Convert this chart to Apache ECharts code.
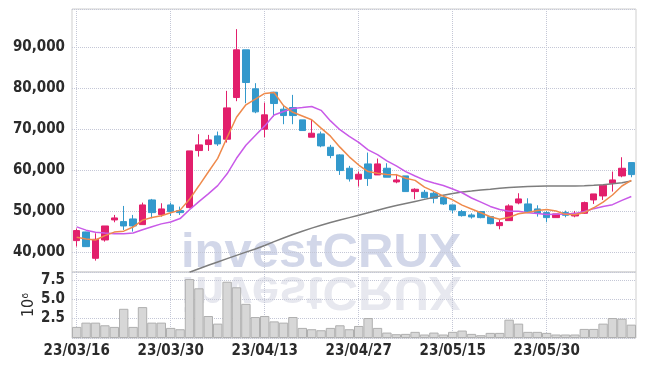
<!DOCTYPE html>
<html>
<head>
<meta charset="utf-8">
<script src="https://cdn.jsdelivr.net/npm/echarts@6/dist/echarts.min.js"></script>
<style>
  html, body { margin: 0; padding: 0; background: #fff; }
  #chart { width: 645px; height: 366px; }
</style>
</head>
<body>
<div id="chart"></div>
<script>
const dates = [
  '23/03/16', '23/03/17', '23/03/20', '23/03/21', '23/03/22', '23/03/23', '23/03/24', '23/03/27', '23/03/28', '23/03/29',
  '23/03/30', '23/03/31', '23/04/03', '23/04/04', '23/04/05', '23/04/06', '23/04/07', '23/04/10', '23/04/11', '23/04/12',
  '23/04/13', '23/04/14', '23/04/17', '23/04/18', '23/04/19', '23/04/20', '23/04/21', '23/04/24', '23/04/25', '23/04/26',
  '23/04/27', '23/04/28', '23/05/02', '23/05/03', '23/05/04', '23/05/08', '23/05/09', '23/05/10', '23/05/11', '23/05/12',
  '23/05/15', '23/05/16', '23/05/17', '23/05/18', '23/05/19', '23/05/22', '23/05/23', '23/05/24', '23/05/25', '23/05/26',
  '23/05/30', '23/05/31', '23/06/01', '23/06/02', '23/06/05', '23/06/07', '23/06/08', '23/06/09', '23/06/12', '23/06/13'
];

const opens = [
  42850, 44960, 38540, 43010, 47890, 47480, 48130, 46750, 52765, 49190,
  51545, 50160, 50895, 64797, 66260, 68374, 67560, 77720, 89350, 79840,
  70000, 79020, 74880, 75285, 72280, 68050, 68860, 65610, 63740, 60490,
  57810, 61545, 58860, 60490, 57155, 58620, 54800, 54630, 54390, 53330,
  51545, 49920, 49100, 49920, 48700, 46500, 47720, 52030, 51790, 50570,
  49675, 48455, 49675, 48860, 49510, 52760, 53740, 56830, 58620, 61870
];
const closes = [
  45300, 41380, 43170, 46420, 48380, 46420, 46420, 51545, 49675, 50570,
  49920, 49675, 64716, 66180, 67400, 66420, 75200, 89350, 81380, 74230,
  73500, 76260, 73330, 73330, 69675, 69025, 65935, 63580, 59920, 57890,
  59025, 57970, 61545, 58300, 57640, 54800, 55370, 53330, 53170, 51790,
  50325, 48940, 48620, 48455, 46990, 47235, 51300, 53010, 49920, 49510,
  48455, 49350, 49025, 49510, 52110, 54230, 56340, 57640, 60490, 58940
];
const lows = [
  41400, 41300, 37970, 42600, 47320, 45450, 45040, 46700, 48290, 48700,
  48860, 49110, 50700, 63330, 64716, 65935, 66750, 76830, 76340, 73900,
  68050, 73090, 71220, 71220, 69675, 68050, 65610, 62930, 58860, 57240,
  56020, 56180, 58860, 58300, 56830, 54800, 52930, 53170, 51950, 51540,
  49510, 48700, 48210, 48290, 46830, 45610, 47720, 51700, 49920, 48700,
  47320, 48455, 48540, 48540, 49350, 51790, 52760, 54800, 58290, 58290
];
const highs = [
  45800, 45000, 44630, 46420, 49110, 51300, 49110, 52110, 53010, 51950,
  52110, 51140, 64716, 68780, 68620, 69430, 79350, 94390, 89350, 81220,
  76500, 79100, 75935, 78370, 72280, 72280, 69430, 66180, 63900, 61060,
  59675, 64310, 62850, 61710, 59100, 58620, 55610, 55200, 54960, 54000,
  51600, 50325, 49510, 50080, 48700, 47890, 51700, 54390, 53170, 51460,
  50080, 49350, 50160, 50080, 52360, 54230, 56340, 59675, 63170, 61900
];

// moving averages
const ma5 = [
  43650, 43250, 43010, 44070, 44930, 45150, 46160, 47840, 48490, 48930,
  49630, 50280, 52910, 56210, 59580, 62880, 67980, 72910, 75950, 77320,
  78730, 78940, 75740, 74130, 73220, 72320, 70260, 68310, 65630, 63270,
  61270, 59680, 59270, 58950, 58900, 58050, 57530, 55890, 54860, 53690,
  52800, 51510, 50570, 49630, 48670, 48050, 48520, 49400, 49690, 50200,
  50440, 50050, 49250, 49170, 49690, 50850, 52240, 53970, 56160, 57530
];
const ma10 = [
  46200, 45400, 44900, 44700, 44550, 44500, 44700, 45500, 46250, 46930,
  47390, 48220, 50370, 52350, 54250, 56250, 59130, 62910, 66080, 68450,
  70810, 73460, 74330, 75040, 75270, 75530, 74600, 72030, 69880, 68250,
  66800, 64970, 63790, 62290, 61080, 59660, 58600, 57580, 56900, 56290,
  55420, 54520, 53230, 52240, 51180, 50420, 50020, 49980, 49660, 49430,
  49240, 49290, 49330, 49430, 49940, 50640, 51150, 51610, 52670, 53610
];
const maLong = [
  null, null, null, null, null, null, null, null, null, null,
  null, null, 35150, 36000, 36850, 37650, 38450, 39250, 40050, 40800,
  41660, 42600, 43500, 44350, 45150, 45900, 46600, 47250, 47850, 48450,
  49050, 49650, 50250, 50850, 51400, 51900, 52400, 52900, 53400, 53900,
  54340, 54710, 54950, 55200, 55390, 55610, 55780, 55930, 56050, 56120,
  56170, 56170, 56170, 56170, 56240, 56340, 56490, 56710, 56950, 57390
];

// volume in millions
const volumes = [
  1.43, 1.98, 1.98, 1.64, 1.43, 3.76, 1.43, 3.98, 1.98, 1.98,
  1.30, 1.13, 7.59, 6.40, 2.83, 1.85, 7.25, 6.53, 4.40, 2.70,
  2.83, 2.14, 1.98, 2.70, 1.30, 1.13, 1.00, 1.30, 1.64, 1.13,
  1.55, 2.57, 1.30, 0.70, 0.49, 0.53, 0.79, 0.45, 0.70, 0.45,
  0.79, 0.96, 0.53, 0.36, 0.66, 0.66, 2.36, 1.85, 0.79, 0.79,
  0.66, 0.45, 0.45, 0.45, 1.17, 1.17, 1.85, 2.57, 2.49, 1.72
];

const candles = dates.map((d, i) => [opens[i], closes[i], lows[i], highs[i]]);

const labelFont = "'Liberation Sans Narrow', 'DejaVu Sans Condensed', sans-serif";
const gridLine = { show: true, lineStyle: { type: 'dotted', color: '#c4c7d6', width: 1 } };
const wmFont = "bold 49px 'Liberation Sans', Arial, sans-serif";

const chart = echarts.init(document.getElementById('chart'));
chart.setOption({
  animation: false,
  backgroundColor: '#fff',
  grid: [
    { left: 72, right: 9, top: 9, height: 263, show: true, borderColor: '#cfcfcf', borderWidth: 1 },
    { left: 72, right: 9, top: 272, height: 66, show: true, borderColor: '#cfcfcf', borderWidth: 1 }
  ],
  graphic: [
    {
      type: 'group', x: 181, y: 272, z: -10, silent: true,
      children: [{
        type: 'text', z: -10,
        style: { text: 'investCRUX', x: 0, y: -43, verticalAlign: 'top', font: wmFont, fill: '#d2d7e9' }
      }]
    },
    {
      type: 'group', x: 181, y: 272, scaleY: -1, z: -10, silent: true,
      children: [{
        type: 'text', z: -10,
        style: { text: 'investCRUX', x: 0, y: -43, verticalAlign: 'top', font: wmFont, fill: '#e7e8ef' }
      }]
    }
  ],
  xAxis: [
    {
      type: 'category', gridIndex: 0, data: dates, boundaryGap: true,
      axisLine: { show: false }, axisTick: { show: false }, axisLabel: { show: false },
      splitLine: Object.assign({ interval: 9, alignWithLabel: true }, gridLine)
    },
    {
      type: 'category', gridIndex: 1, data: dates, boundaryGap: true,
      axisLine: { show: false }, axisTick: { show: false },
      axisLabel: { interval: 9, fontSize: 15, fontWeight: 'bold', color: '#2b2b2b', fontFamily: labelFont, margin: 6 },
      splitLine: Object.assign({ interval: 9, alignWithLabel: true }, gridLine)
    }
  ],
  yAxis: [
    {
      type: 'value', gridIndex: 0, min: 35200, max: 99300, splitNumber: 6,
      axisLine: { show: false }, axisTick: { show: false },
      axisLabel: { fontSize: 15, fontWeight: 'bold', color: '#2b2b2b', fontFamily: labelFont, margin: 7,
                   showMinLabel: false, showMaxLabel: false },
      splitLine: gridLine
    },
    {
      type: 'value', gridIndex: 1, min: 0, max: 8.5, interval: 2.5,
      name: '10⁶', nameLocation: 'middle', nameGap: 35, nameRotate: 90, nameMoveOverlap: false,
      nameTextStyle: { fontSize: 16, color: '#2b2b2b', fontFamily: labelFont },
      axisLine: { show: false }, axisTick: { show: false },
      axisLabel: { fontSize: 15, fontWeight: 'bold', color: '#2b2b2b', fontFamily: labelFont, margin: 7,
                   showMinLabel: false, showMaxLabel: false, formatter: v => v.toFixed(1) },
      splitLine: gridLine
    }
  ],
  series: [
    {
      type: 'candlestick', xAxisIndex: 0, yAxisIndex: 0, data: candles, barWidth: 7,
      itemStyle: { color: '#e21f6c', color0: '#3399cc', borderColor: '#e21f6c', borderColor0: '#3399cc', borderWidth: 1 }
    },
    {
      type: 'line', xAxisIndex: 0, yAxisIndex: 0, data: maLong, showSymbol: false,
      lineStyle: { color: '#7d7d7d', width: 1.5 }, itemStyle: { color: '#7d7d7d' }
    },
    {
      type: 'line', xAxisIndex: 0, yAxisIndex: 0, data: ma10, showSymbol: false,
      lineStyle: { color: '#c95ae8', width: 1.5 }, itemStyle: { color: '#c95ae8' }
    },
    {
      type: 'line', xAxisIndex: 0, yAxisIndex: 0, data: ma5, showSymbol: false,
      lineStyle: { color: '#ef8a4c', width: 1.5 }, itemStyle: { color: '#ef8a4c' }
    },
    {
      type: 'bar', xAxisIndex: 1, yAxisIndex: 1, data: volumes, barWidth: '100%',
      itemStyle: { color: '#d7d7d7', borderColor: '#afafaf', borderWidth: 1 }
    }
  ]
});
</script>
</body>
</html>
